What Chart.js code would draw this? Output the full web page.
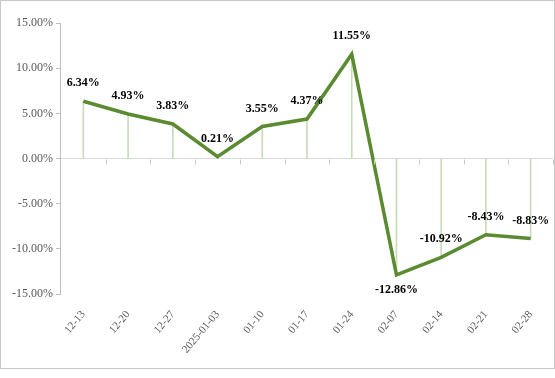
<!DOCTYPE html>
<html>
<head>
<meta charset="utf-8">
<script src="https://cdn.jsdelivr.net/npm/chart.js@4/dist/chart.umd.min.js"></script>
<style>
html,body{margin:0;padding:0;background:#fff;}
#wrap{position:absolute;left:0;top:0;width:555px;height:369px;box-sizing:border-box;border:1px solid #c8c8c8;background:#fff;}
canvas{display:block;}
</style>
</head>
<body>
<div id="wrap"><canvas id="c" width="553" height="367"></canvas></div>
<script>
const categories = ['12-13','12-20','12-27','2025-01-03','01-10','01-17','01-24','02-07','02-14','02-21','02-28'];
const values = [6.34, 4.93, 3.83, 0.21, 3.55, 4.37, 11.55, -12.86, -10.92, -8.43, -8.83];
const yTicks = [-15, -10, -5, 0, 5, 10, 15];

const FONT = "'Liberation Serif', 'Times New Roman', serif";

const zeroTicks = {
  id: 'zeroTicks',
  afterDatasetsDraw(chart) {
    const xs = chart.scales.x, ys = chart.scales.y, ctx = chart.ctx;
    const y0 = Math.round(ys.getPixelForValue(0)) + 0.5;
    const w = xs.getPixelForValue(1) - xs.getPixelForValue(0);
    ctx.save();
    ctx.strokeStyle = '#c8c8c8';
    ctx.lineWidth = 1;
    for (let i = 1; i <= categories.length; i++) {
      const x = Math.round(xs.getPixelForValue(0) - w / 2 + i * w) + 0.5;
      ctx.beginPath();
      ctx.moveTo(x, y0);
      ctx.lineTo(x, y0 + 5);
      ctx.stroke();
    }
    ctx.restore();
  }
};

const valueLabels = {
  id: 'valueLabels',
  afterDatasetsDraw(chart) {
    const meta = chart.getDatasetMeta(1);
    const ctx = chart.ctx;
    const minV = Math.min(...values);
    ctx.save();
    ctx.font = "bold 12px " + FONT;
    ctx.fillStyle = '#000';
    ctx.textAlign = 'center';
    ctx.textBaseline = 'middle';
    meta.data.forEach((pt, i) => {
      const v = values[i];
      const below = v === minV;
      ctx.fillText(v.toFixed(2) + '%', pt.x, below ? pt.y + 15 : pt.y - 18);
    });
    ctx.restore();
  }
};

new Chart(document.getElementById('c'), {
  type: 'bar',
  data: {
    labels: categories,
    datasets: [
      {
        type: 'bar',
        data: values,
        backgroundColor: '#c9dcb8',
        borderWidth: 0,
        barThickness: 1,
        order: 2
      },
      {
        type: 'line',
        data: values,
        borderColor: '#5b8b30',
        borderWidth: 3.5,
        pointRadius: 0,
        tension: 0,
        fill: false,
        order: 1
      }
    ]
  },
  options: {
    responsive: false,
    devicePixelRatio: 1,
    animation: false,
    layout: { padding: { left: 8, top: 22, right: 1, bottom: 6 } },
    plugins: { legend: { display: false }, tooltip: { enabled: false } },
    scales: {
      x: {
        offset: true,
        grid: { display: false },
        border: { display: false },
        ticks: {
          autoSkip: false,
          minRotation: 50,
          maxRotation: 50,
          padding: 6,
          color: '#595959',
          font: { family: FONT, size: 11 }
        }
      },
      y: {
        min: -15,
        max: 15,
        afterBuildTicks(scale) { scale.ticks = yTicks.map(v => ({ value: v })); },
        border: { display: true, color: '#bfbfbf' },
        grid: {
          color: c => (c.tick && c.tick.value === 0) ? '#d9d9d9' : 'rgba(0,0,0,0)',
          tickColor: '#bfbfbf',
          tickLength: 5
        },
        ticks: {
          padding: 3,
          color: '#595959',
          font: { family: FONT, size: 12 },
          callback: v => v.toFixed(2) + '%'
        }
      }
    }
  },
  plugins: [zeroTicks, valueLabels]
});
</script>
</body>
</html>
